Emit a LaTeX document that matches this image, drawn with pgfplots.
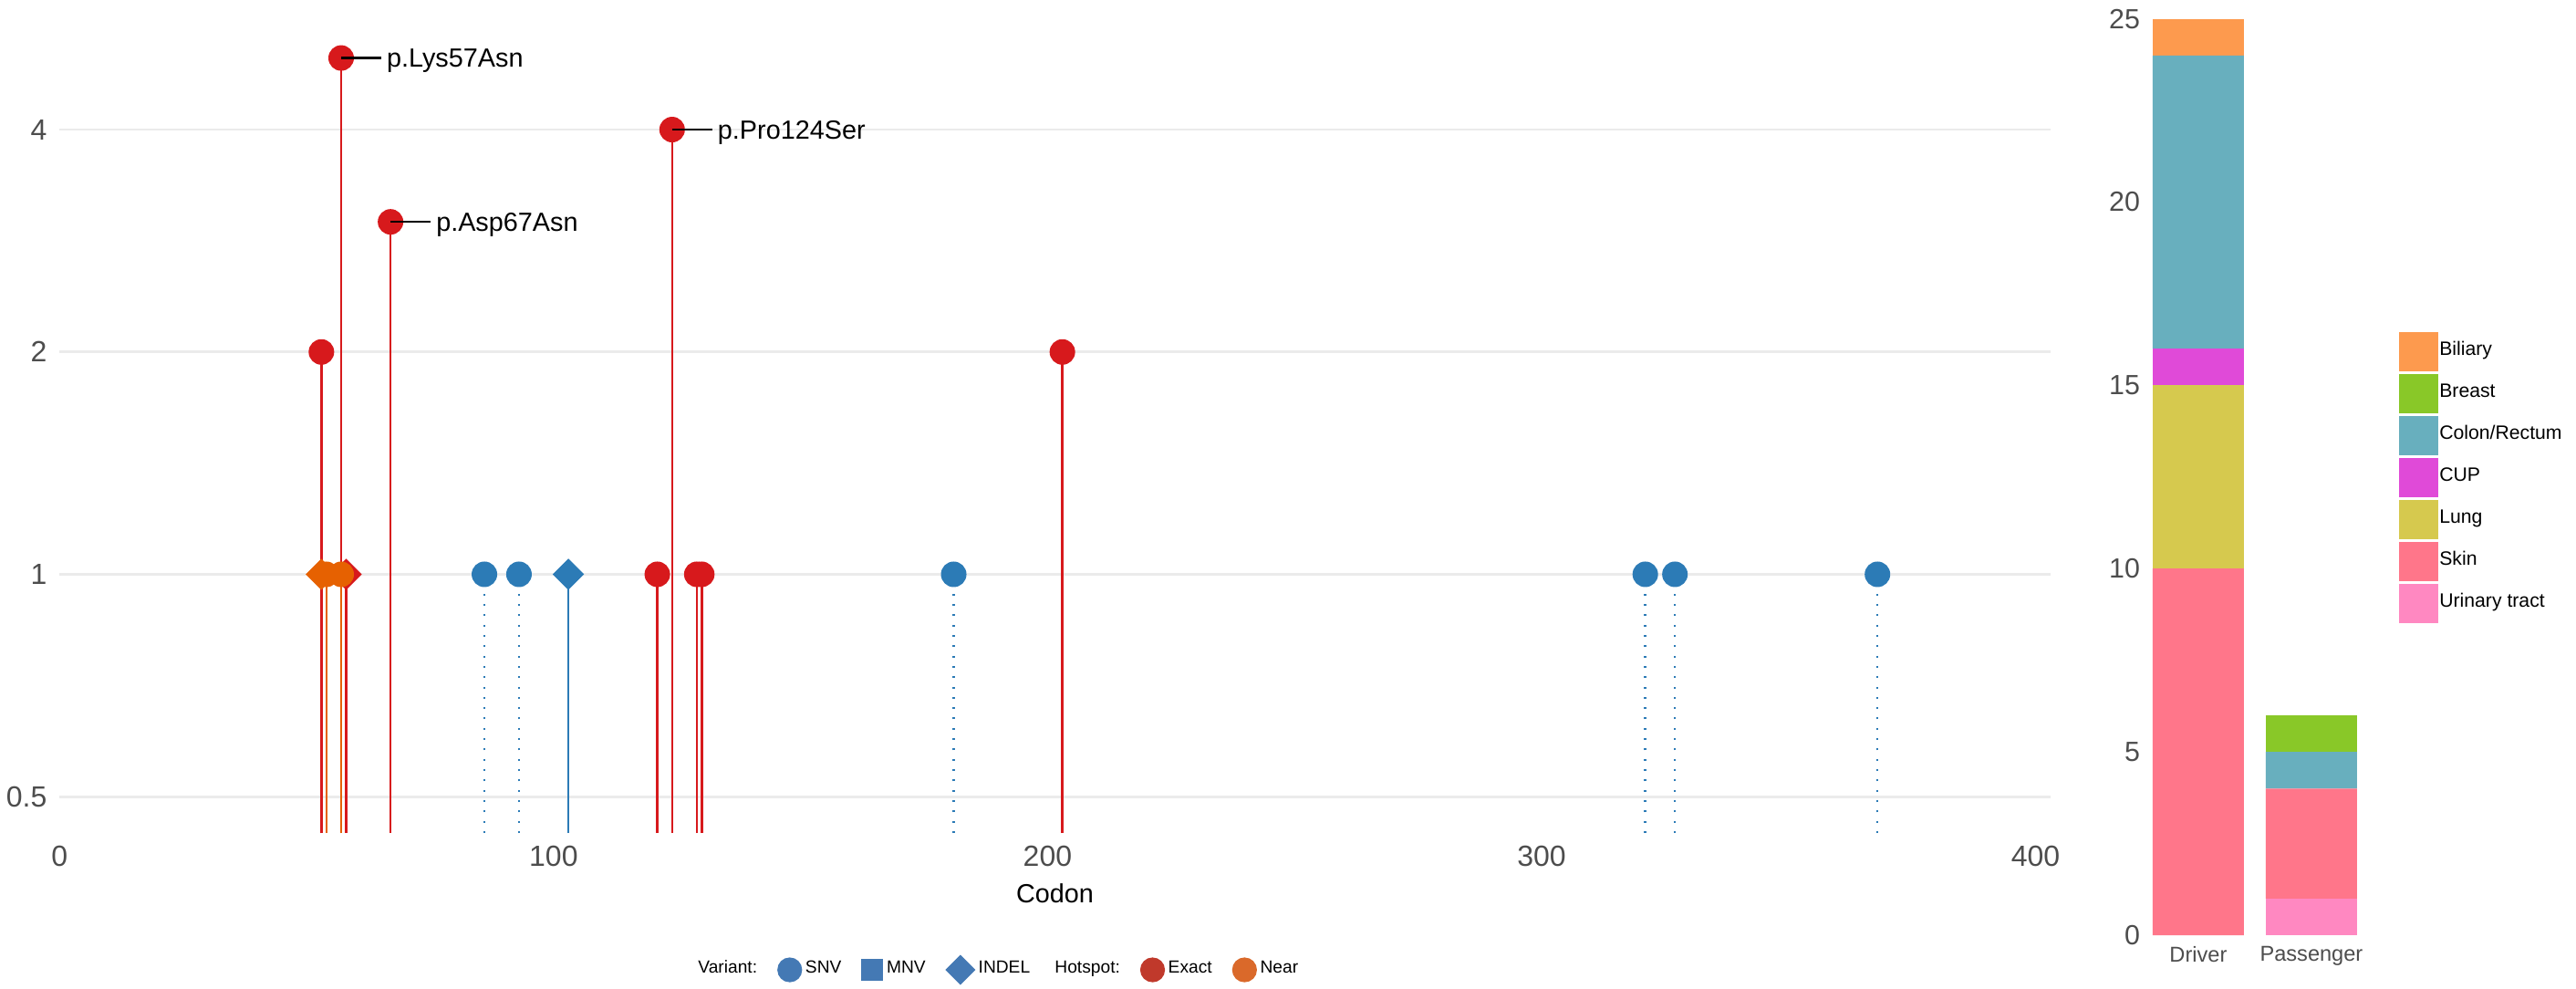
\documentclass[border=0pt]{standalone}
\usepackage{fontspec}
\setmainfont{Liberation Sans}
\usepackage{pgfplots}
\pgfplotsset{compat=1.18}
\definecolor{cred}{HTML}{D7191C}
\definecolor{cblue}{HTML}{2C7BB6}
\definecolor{corange}{HTML}{E66101}
\definecolor{lred}{HTML}{C0392B}
\definecolor{lblue}{HTML}{4479B4}
\definecolor{lorange}{HTML}{DA692A}
\definecolor{tickgray}{HTML}{4D4D4D}
\definecolor{gridgray}{HTML}{EBEBEB}
\definecolor{cBiliary}{HTML}{FD9A4E}
\definecolor{cBreast}{HTML}{89C828}
\definecolor{cColon}{HTML}{68AFBE}
\definecolor{cCUP}{HTML}{E04AD8}
\definecolor{cLung}{HTML}{D6C94E}
\definecolor{cSkin}{HTML}{FF768A}
\definecolor{cUrinary}{HTML}{FF88C1}
\pgfplotsset{
  stem/.style={line width=0.6pt, forget plot},
  dotstem/.style={line width=0.6pt, dash pattern=on 0.5pt off 2.33pt, forget plot},
  circ/.style={only marks, mark=*, mark size=3.3pt, forget plot},
  diam/.style={only marks, mark=square*, mark options={rotate=45}, mark size=2.83pt, forget plot},
}
\begin{document}
\begin{tikzpicture}[x=1pt,y=1pt]
\path[use as bounding box] (0,0) rectangle (706,270.75);
\begin{axis}[
  at={(16.33pt,42.5pt)}, anchor=south west,
  scale only axis, width=545.6pt, height=223.1pt,
  xmin=0, xmax=403, ymode=log, ymin=0.4465, ymax=5.65,
  ytick={0.5,1,2,4}, yticklabels={0.5,1,2,4},
  xtick={0,100,200,300,400},
  ymajorgrids, grid style={gridgray, line width=0.67pt},
  axis line style={draw=none}, major tick length=0pt,
  /pgf/number format/assume math mode=true,
  ticklabel style={font=\fontsize{8}{9}\selectfont, text=tickgray},
  yticklabel style={anchor=east, inner sep=0pt, xshift=-3.3pt},
  xticklabel style={anchor=north, inner sep=0pt, yshift=-3.4pt},
  xlabel={Codon},
  xlabel style={font=\fontsize{7.2}{8}\selectfont, at={(axis description cs:0.5,0)}, anchor=north, inner sep=0pt, yshift=-13.7pt},
  clip=false,
  legend columns=-1,
  legend style={at={(axis description cs:0.3184,-0.1681)}, anchor=west, draw=none, fill=none,
    font=\fontsize{4.8}{5.5}\selectfont, inner sep=0pt,
    /tikz/every even column/.append style={column sep=4.6pt}, nodes={inner sep=1.1pt}},
  legend image code/.code={\draw[#1] plot coordinates {(0pt,0pt)};},
]
% stems
\addplot[stem, corange] coordinates {(53,0.4465) (53,1)};
\addplot[stem, cred] coordinates {(53,0.4465) (53,2)};
\addplot[stem, corange] coordinates {(54,0.4465) (54,1)};
\addplot[stem, cred] coordinates {(57,0.4465) (57,5)};
\addplot[stem, corange] coordinates {(57,0.4465) (57,1)};
\addplot[stem, cred] coordinates {(58,0.4465) (58,1)};
\addplot[stem, cred] coordinates {(67,0.4465) (67,3)};
\addplot[dotstem, cblue] coordinates {(86,0.4465) (86,1)};
\addplot[dotstem, cblue] coordinates {(93,0.4465) (93,1)};
\addplot[stem, cblue] coordinates {(103,0.4465) (103,1)};
\addplot[stem, cred] coordinates {(121,0.4465) (121,1)};
\addplot[stem, cred] coordinates {(124,0.4465) (124,4)};
\addplot[stem, cred] coordinates {(129,0.4465) (129,1)};
\addplot[stem, cred] coordinates {(130,0.4465) (130,1)};
\addplot[dotstem, cblue] coordinates {(181,0.4465) (181,1)};
\addplot[stem, cred] coordinates {(203,0.4465) (203,2)};
\addplot[dotstem, cblue] coordinates {(321,0.4465) (321,1)};
\addplot[dotstem, cblue] coordinates {(327,0.4465) (327,1)};
\addplot[dotstem, cblue] coordinates {(368,0.4465) (368,1)};
% markers
\addplot[circ, cblue] coordinates {(86,1) (93,1) (181,1) (321,1) (327,1) (368,1)};
\addplot[diam, cblue] coordinates {(103,1)};
\addplot[diam, cred] coordinates {(58,1)};
\addplot[diam, corange] coordinates {(53,1)};
\addplot[circ, corange] coordinates {(54,1) (57,1)};
\addplot[circ, cred] coordinates {(53,2) (57,5) (67,3) (124,4) (203,2) (121,1) (129,1) (130,1)};
% annotation anchors
\coordinate (lys) at (axis cs:57,5);
\coordinate (pro) at (axis cs:124,4);
\coordinate (asp) at (axis cs:67,3);
% legend
\addlegendimage{empty legend}\addlegendentry{Variant:}
\addlegendimage{only marks, mark=*, mark size=3.2pt, lblue}\addlegendentry{SNV}
\addlegendimage{only marks, mark=square*, mark size=2.8pt, lblue}\addlegendentry{MNV}
\addlegendimage{only marks, mark=square*, mark options={rotate=45}, mark size=2.72pt, lblue}\addlegendentry{INDEL}
\addlegendimage{empty legend}\addlegendentry{Hotspot:}
\addlegendimage{only marks, mark=*, mark size=3.2pt, lred}\addlegendentry{Exact}
\addlegendimage{only marks, mark=*, mark size=3.2pt, lorange}\addlegendentry{Near}
\end{axis}
\foreach \c/\t in {lys/p.Lys57Asn, pro/p.Pro124Ser, asp/p.Asp67Asn}{
  \draw[black, line width=0.55pt] (\c) -- ++(11pt,0pt) node[anchor=base west, inner sep=0pt, xshift=1.25pt, yshift=-2.5pt, font=\fontsize{7.2}{8}\selectfont] {\t};
}

\begin{axis}[
  at={(587.9pt,14.5pt)}, anchor=south west,
  scale only axis, width=60.15pt, height=251.1pt,
  xmin=-0.47, xmax=1.47, ymin=0, ymax=25,
  ybar stacked, bar width=25pt,
  xtick={0,1}, xticklabels={Driver,Passenger},
  ytick={0,5,10,15,20,25},
  axis line style={draw=none}, major tick length=0pt,
  /pgf/number format/assume math mode=true,
  yticklabel style={font=\fontsize{7.6}{9}\selectfont, text=tickgray, anchor=east, inner sep=0pt, xshift=-1.2pt},
  xticklabel style={font=\fontsize{5.9}{7}\selectfont, text=tickgray, anchor=north, inner sep=0pt, yshift=-2.9pt},
  clip=false,
  reverse legend,
  legend style={at={(axis description cs:1.1525,0.6592)}, anchor=north west, draw=none, fill=none,
    font=\fontsize{5.3}{6}\selectfont, row sep=0.75pt, inner sep=0pt, nodes={inner sep=0.4pt}},
  legend cell align=left,
  legend image code/.code={\fill[#1] (0pt,-5.375pt) rectangle (10.75pt,5.375pt);},
]
\addplot[fill=cUrinary, draw=none] coordinates {(0,0) (1,1)}; \addlegendentry{Urinary tract}
\addplot[fill=cSkin, draw=none] coordinates {(0,10) (1,3)}; \addlegendentry{Skin}
\addplot[fill=cLung, draw=none] coordinates {(0,5) (1,0)}; \addlegendentry{Lung}
\addplot[fill=cCUP, draw=none] coordinates {(0,1) (1,0)}; \addlegendentry{CUP}
\addplot[fill=cColon, draw=none] coordinates {(0,8) (1,1)}; \addlegendentry{Colon/Rectum}
\addplot[fill=cBreast, draw=none] coordinates {(0,0) (1,1)}; \addlegendentry{Breast}
\addplot[fill=cBiliary, draw=none] coordinates {(0,1) (1,0)}; \addlegendentry{Biliary}
\end{axis}
\end{tikzpicture}
\end{document}
